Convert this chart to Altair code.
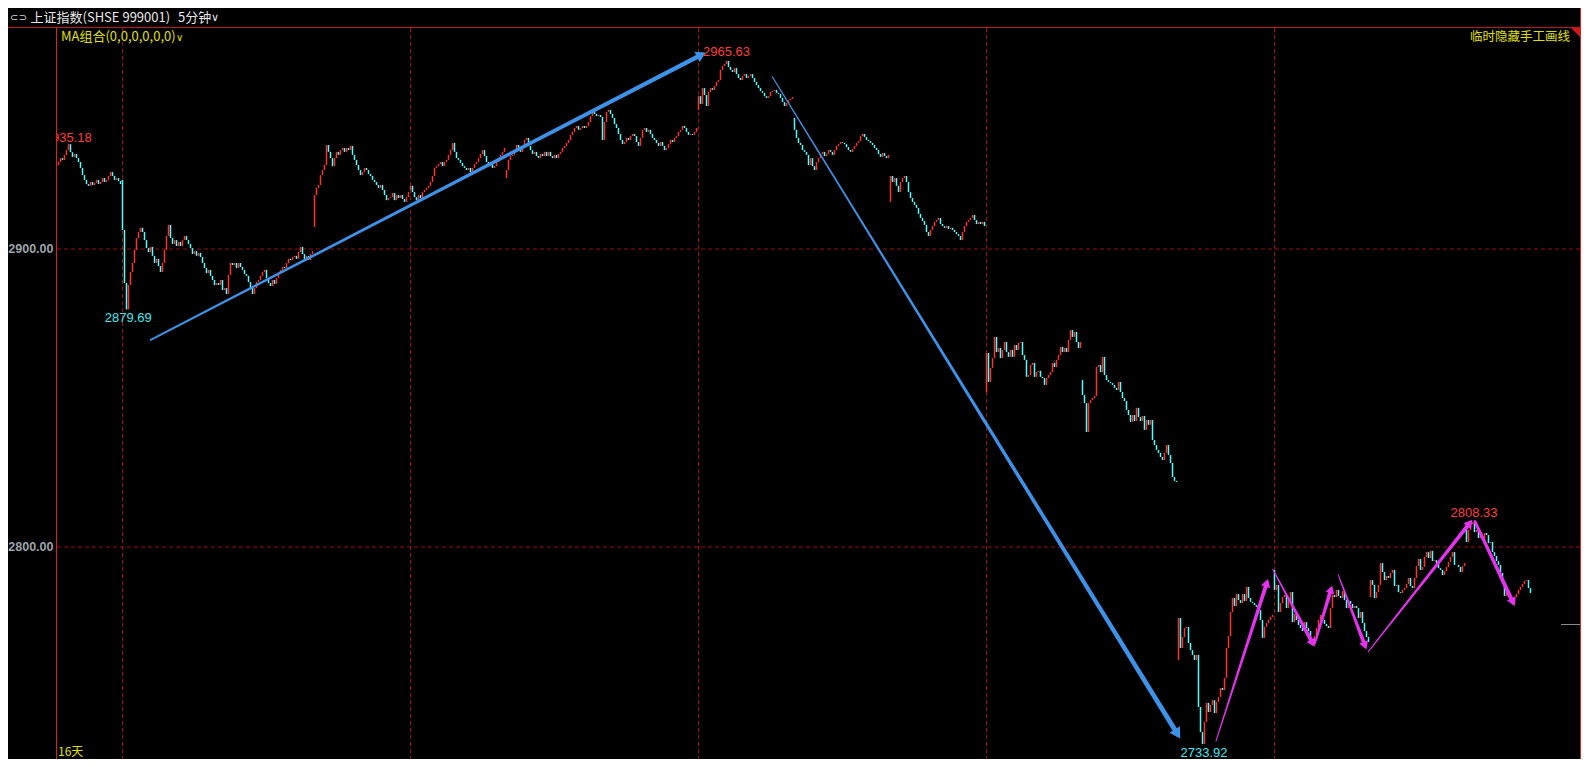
import math
import pandas as pd
import altair as alt

# ---------------- data (5-minute closes per trading day) ----------------
day_opens = [2928.2, 2923.2, 2888.6, 2907.4, 2919.8, 2923.8, 2944.3, 2946.7,
             2944.0, 2915.8, 2852.0, 2856.0, 2762.1, 2792.3, 2783.2, 2807.7]

day01 = [2929.2, 2930.5, 2929.9, 2931.5, 2933.2, 2935.2, 2932.5, 2930.9, 2931.9, 2930.5,
         2929.2, 2927.2, 2924.8, 2923.2, 2921.8, 2921.2, 2922.5, 2921.5, 2922.2, 2923.2,
         2921.8, 2922.5, 2923.8, 2922.5, 2923.2, 2924.5, 2925.8, 2924.5, 2923.2, 2923.8,
         2922.8, 2921.8]
day02 = [2906.4, 2888.6, 2879.7, 2887.9, 2892.3, 2895.3, 2899.7, 2903.7, 2905.7, 2907.1,
         2905.7, 2903.0, 2900.3, 2899.0, 2900.7, 2897.7, 2895.3, 2896.7, 2894.3, 2892.3,
         2895.3, 2899.7, 2904.4, 2908.1, 2903.7, 2901.7, 2903.0, 2901.0, 2902.4, 2901.0,
         2903.0, 2904.4, 2903.0, 2901.7, 2900.3, 2898.3, 2899.3, 2897.7, 2898.7, 2897.3,
         2895.3, 2893.6, 2891.9, 2893.0, 2891.0, 2889.6, 2887.9, 2888.6]
day03 = [2887.9, 2889.6, 2886.2, 2886.9, 2884.9, 2891.3, 2895.3, 2894.6, 2895.3, 2893.6,
         2895.3, 2894.0, 2893.0, 2891.6, 2891.0, 2888.9, 2886.9, 2884.9, 2886.9, 2888.9,
         2889.6, 2891.0, 2892.3, 2893.0, 2890.3, 2888.6, 2887.6, 2889.6, 2888.3, 2890.3,
         2892.0, 2893.0, 2894.0, 2893.6, 2895.3, 2896.7, 2896.3, 2897.3, 2897.7, 2896.7,
         2899.0, 2900.7, 2898.3, 2896.7, 2897.7, 2896.3, 2898.3, 2899.3]
day04 = [2918.1, 2920.5, 2921.5, 2924.8, 2926.5, 2928.2, 2934.9, 2932.6, 2930.5, 2927.8,
         2930.5, 2932.6, 2931.6, 2933.2, 2933.9, 2932.6, 2933.9, 2933.2, 2934.6, 2931.6,
         2929.9, 2928.2, 2926.5, 2924.8, 2925.8, 2927.2, 2926.5, 2925.2, 2924.5, 2923.2,
         2922.5, 2921.5, 2920.5, 2921.5, 2919.8, 2918.1, 2916.4, 2917.1, 2917.4, 2918.8,
         2916.4, 2918.1, 2917.1, 2918.1, 2916.8, 2915.8, 2917.4, 2919.1]
day05 = [2921.2, 2919.1, 2917.4, 2916.4, 2918.1, 2917.1, 2919.1, 2919.8, 2920.5, 2921.2,
         2922.5, 2924.5, 2927.2, 2927.8, 2928.5, 2929.2, 2927.8, 2929.2, 2929.9, 2931.6,
         2933.2, 2935.6, 2932.6, 2930.5, 2929.9, 2928.9, 2927.8, 2927.2, 2926.5, 2927.2,
         2925.8, 2927.2, 2928.5, 2929.2, 2930.5, 2931.9, 2933.2, 2931.2, 2929.2, 2927.8,
         2928.5, 2927.2, 2927.8, 2929.2, 2930.5, 2931.6, 2932.6, 2933.9]
day06 = [2926.5, 2929.9, 2931.2, 2931.6, 2933.2, 2934.9, 2933.9, 2932.6, 2934.6, 2936.6,
         2937.3, 2934.6, 2933.2, 2931.9, 2932.6, 2931.2, 2930.5, 2931.9, 2931.2, 2932.6,
         2931.2, 2932.6, 2931.2, 2930.5, 2931.6, 2930.5, 2931.9, 2932.6, 2933.9, 2934.6,
         2935.6, 2936.6, 2938.3, 2939.3, 2940.6, 2941.3, 2940.0, 2940.6, 2941.3, 2940.6,
         2941.3, 2942.6, 2944.6, 2946.0, 2945.3, 2944.6, 2945.0, 2944.3]
day07 = [2936.6, 2942.6, 2946.0, 2946.7, 2945.3, 2944.0, 2941.9, 2940.6, 2938.6, 2936.6,
         2935.2, 2935.9, 2937.3, 2936.6, 2937.9, 2938.6, 2937.9, 2935.9, 2934.6, 2937.3,
         2940.0, 2940.6, 2939.3, 2940.0, 2938.6, 2937.3, 2936.6, 2935.6, 2934.6, 2935.9,
         2934.6, 2933.2, 2933.9, 2935.2, 2936.6, 2935.9, 2937.3, 2937.9, 2939.3, 2940.0,
         2941.3, 2940.6, 2939.3, 2938.3, 2938.6, 2938.3, 2939.3, 2940.6]
day08 = [2951.3, 2948.7, 2954.0, 2951.7, 2948.0, 2952.7, 2954.0, 2953.4, 2954.7, 2956.1,
         2956.7, 2960.1, 2961.4, 2962.1, 2963.1, 2961.1, 2960.1, 2959.4, 2960.7, 2958.7,
         2957.4, 2956.7, 2958.1, 2958.7, 2957.4, 2958.1, 2958.7, 2957.4, 2956.1, 2955.0,
         2954.0, 2953.0, 2952.4, 2951.3, 2950.7, 2951.3, 2952.7, 2953.0, 2953.4, 2952.4,
         2952.0, 2950.7, 2949.3, 2948.0, 2949.0, 2950.0, 2950.4, 2951.0]
day09 = [2940.0, 2937.3, 2935.6, 2934.9, 2933.2, 2932.6, 2931.6, 2928.2, 2930.5, 2927.8,
         2926.5, 2929.2, 2930.5, 2931.9, 2932.6, 2931.2, 2931.9, 2933.2, 2932.6, 2931.6,
         2933.2, 2934.6, 2935.2, 2935.9, 2935.6, 2935.2, 2934.2, 2933.2, 2932.6, 2933.6,
         2934.6, 2935.6, 2936.2, 2937.9, 2938.6, 2937.6, 2936.6, 2936.2, 2935.6, 2934.9,
         2933.9, 2933.2, 2931.9, 2930.9, 2932.2, 2931.2, 2930.5, 2931.6]
day10 = [2924.5, 2922.5, 2923.8, 2921.2, 2919.1, 2922.5, 2923.8, 2924.5, 2922.5, 2919.1,
         2917.1, 2915.8, 2914.8, 2913.8, 2911.8, 2910.4, 2909.4, 2908.1, 2905.7, 2904.4,
         2906.4, 2907.7, 2909.1, 2909.7, 2910.4, 2908.4, 2907.7, 2907.1, 2907.7, 2906.7,
         2907.1, 2906.4, 2905.7, 2905.0, 2904.4, 2903.0, 2905.7, 2907.7, 2909.1, 2909.7,
         2910.4, 2911.4, 2909.7, 2908.4, 2909.1, 2908.4, 2909.1, 2907.7]
day11 = [2865.1, 2855.4, 2860.1, 2863.4, 2870.5, 2865.4, 2866.8, 2863.4, 2866.1, 2868.8,
         2865.4, 2863.8, 2866.1, 2863.8, 2867.8, 2866.1, 2868.5, 2868.8, 2864.4, 2862.8,
         2857.1, 2857.7, 2861.1, 2861.8, 2857.1, 2858.7, 2859.1, 2857.1, 2856.7, 2854.4,
         2856.7, 2857.7, 2858.7, 2861.8, 2860.4, 2862.8, 2864.4, 2867.1, 2865.4, 2866.8,
         2865.4, 2869.5, 2872.8, 2870.5, 2872.2, 2868.8, 2866.8, 2868.8]
day12 = [2851.0, 2848.3, 2838.6, 2848.3, 2849.3, 2850.0, 2850.7, 2860.4, 2861.1, 2858.7,
         2863.8, 2857.7, 2856.0, 2855.4, 2855.0, 2854.4, 2853.4, 2852.7, 2855.4, 2852.0,
         2850.0, 2849.0, 2846.0, 2844.3, 2842.0, 2844.3, 2842.3, 2846.7, 2843.6, 2842.3,
         2844.0, 2839.3, 2842.6, 2841.0, 2842.6, 2835.9, 2834.2, 2832.6, 2831.6, 2830.2,
         2829.2, 2831.6, 2834.2, 2830.9, 2828.2, 2823.5, 2822.2, 2821.8]
day13 = [2776.2, 2766.1, 2769.8, 2772.8, 2773.2, 2767.8, 2765.4, 2763.8, 2762.1, 2763.8,
         2746.3, 2737.9, 2733.9, 2741.3, 2747.7, 2744.6, 2747.0, 2748.6, 2744.3, 2748.0,
         2749.7, 2752.7, 2752.0, 2756.1, 2766.1, 2770.1, 2778.2, 2782.9, 2780.2, 2784.2,
         2782.2, 2781.2, 2784.2, 2781.9, 2786.6, 2782.9, 2781.6, 2781.2, 2780.5, 2779.9,
         2778.8, 2775.5, 2769.5, 2773.2, 2774.5, 2775.5, 2776.5, 2777.2]
day14 = [2785.6, 2787.3, 2778.2, 2781.2, 2783.2, 2783.9, 2779.5, 2782.2, 2784.9, 2774.8,
         2777.5, 2775.5, 2773.8, 2772.8, 2771.8, 2774.8, 2772.8, 2771.8, 2768.8, 2767.1,
         2770.1, 2772.8, 2775.5, 2777.2, 2775.5, 2774.2, 2773.5, 2772.8, 2779.5, 2783.9,
         2783.2, 2785.6, 2783.6, 2782.9, 2785.2, 2782.2, 2779.5, 2781.9, 2780.9, 2779.5,
         2780.2, 2779.5, 2776.2, 2778.2, 2774.5, 2771.8, 2769.8, 2768.1]
day15 = [2788.9, 2787.3, 2782.9, 2784.9, 2787.3, 2794.6, 2791.6, 2788.9, 2790.3, 2789.6,
         2791.3, 2792.3, 2786.9, 2787.3, 2784.9, 2784.6, 2785.6, 2786.2, 2787.6, 2789.6,
         2786.9, 2786.2, 2789.6, 2793.6, 2796.0, 2792.3, 2793.3, 2796.7, 2798.3, 2796.3,
         2798.7, 2795.3, 2795.6, 2794.6, 2792.9, 2792.3, 2790.6, 2791.9, 2793.3, 2795.0,
         2796.7, 2798.3, 2794.0, 2794.0, 2793.3, 2791.6, 2793.6, 2794.6]
day16 = [2801.7, 2805.7, 2807.7, 2808.3, 2805.0, 2805.7, 2803.0, 2803.7, 2802.3, 2804.7,
         2804.0, 2801.3, 2801.7, 2798.3, 2797.0, 2795.3, 2794.0, 2791.3, 2788.2, 2783.6,
         2785.6, 2783.2, 2782.2, 2781.2, 2783.2, 2784.2, 2785.6, 2786.6, 2787.6, 2788.6,
         2788.9, 2786.2, 2784.6]

days = [day01, day02, day03, day04, day05, day06, day07, day08,
        day09, day10, day11, day12, day13, day14, day15, day16]
assert len(day01) == 32 and len(day16) == 33
assert all(len(d) == 48 for d in days[1:15]), [len(d) for d in days]

# first bar index of every third day (dashed separators)
sep_index = [32, 176, 320, 464, 608]
grid_prices = [2900, 2800]
grid_labels = ["2900.00", "2800.00"]

# hand-drawn arrows
BLUE = "#3d91e6"
MAG = "#e632ef"
arrow_id = ["b1", "b2", "m1", "m2", "m3", "m4", "m5", "m6"]
arrow_i0 = [46.1, 356.9, 578.75, 607.1, 628.25, 639.9, 654.9, 708.25]
arrow_p0 = [2869.5, 2957.8, 2734.9, 2792.5, 2767.8, 2790.6, 2764.9, 2808.5]
arrow_i1 = [324.0, 561.1, 604.9, 628.25, 636.9, 654.1, 707.1, 728.25]
arrow_p1 = [2966.1, 2735.5, 2789.5, 2766.3, 2787.2, 2765.4, 2809.3, 2780.0]
arrow_w0 = [1.8, 1.2, 1.0, 1.0, 2.0, 1.0, 1.0, 3.0]
arrow_w1 = [4.5, 5.0, 4.0, 4.0, 4.0, 4.0, 4.0, 4.0]
arrow_col = [BLUE, BLUE, MAG, MAG, MAG, MAG, MAG, MAG]
arrow_head = [130, 150, 90, 90, 80, 90, 90, 90]

# price annotations
ann_text = ["2965.63", "2879.69", "2733.92", "2808.33"]
ann_i = [322.25, 34.9, 572.75, 707.75]
ann_p = [2966.1, 2876.7, 2730.9, 2811.4]
ann_col = ["#ff3c3c", "#40e8f0", "#40e8f0", "#ff3c3c"]
clip_text = "2935.18"
clip_i, clip_p = 16.6, 2937.1

# ---------------- frame ----------------
W, H = 1573, 751
X_DOM = [-25.25, 761.25]
Y_DOM = [2728.86, 2980.88]
PX_I = W / (X_DOM[1] - X_DOM[0])
PX_P = H / (Y_DOM[1] - Y_DOM[0])

RED = "#ff3232"
CYAN = "#54fcfc"
xs = alt.Scale(domain=X_DOM, nice=False, zero=False)
ys = alt.Scale(domain=Y_DOM, nice=False, zero=False)


def X(f):
    return alt.X(f, type="quantitative", scale=xs, axis=None)


def Y(f):
    return alt.Y(f, type="quantitative", scale=ys, axis=None)


rows = []
k = 0
for o0, closes in zip(day_opens, days):
    prev = o0
    for c in closes:
        rows.append({"i": k, "open": prev, "close": c, "dir": "up" if c >= prev else "down"})
        prev = c
        k += 1
candles = pd.DataFrame(rows)

trail_rows, head_rows = [], []
for n in range(len(arrow_id)):
    i0, p0, i1, p1 = arrow_i0[n], arrow_p0[n], arrow_i1[n], arrow_p1[n]
    dx = (i1 - i0) * PX_I
    dy = -(p1 - p0) * PX_P
    L = math.hypot(dx, dy)
    ux, uy = dx / L, dy / L
    back = 0.5 * math.sqrt(arrow_head[n])
    ci = i1 - back * ux / PX_I
    cp = p1 + back * uy / PX_P
    ang = math.degrees(math.atan2(ux, -uy)) % 360
    trail_rows.append({"id": arrow_id[n], "k": 0, "i": i0, "p": p0, "w": arrow_w0[n], "col": arrow_col[n]})
    trail_rows.append({"id": arrow_id[n], "k": 1, "i": ci, "p": cp, "w": arrow_w1[n], "col": arrow_col[n]})
    head_rows.append({"i": ci, "p": cp, "ang": ang, "s": arrow_head[n], "col": arrow_col[n]})
trails = pd.DataFrame(trail_rows)
heads = pd.DataFrame(head_rows)

DASH = "#9a1010"
BORDER = "#e02020"

hgrid = alt.Chart(pd.DataFrame({"p": grid_prices})).mark_rule(
    color=DASH, strokeDash=[4, 3], strokeWidth=1
).encode(y=Y("p"), x=alt.value(49), x2=alt.value(1572))

vgrid = alt.Chart(pd.DataFrame({"i": sep_index})).mark_rule(
    color=DASH, strokeDash=[4, 3], strokeWidth=1
).encode(x=X("i"), y=alt.value(20), y2=alt.value(751))

bars = alt.Chart(candles).mark_rule(strokeWidth=1.5).encode(
    x=X("i"), y=Y("open"), y2="close",
    color=alt.Color("dir:N", scale=alt.Scale(domain=["up", "down"], range=[RED, CYAN]), legend=None),
)

trail = alt.Chart(trails).mark_trail().encode(
    x=X("i"), y=Y("p"),
    size=alt.Size("w:Q", scale=None, legend=None),
    color=alt.Color("col:N", scale=None, legend=None),
    detail="id:N", order="k:Q",
)

head = alt.Chart(heads).mark_point(shape="triangle-up", filled=True, opacity=1, strokeWidth=0).encode(
    x=X("i"), y=Y("p"),
    angle=alt.Angle("ang:Q", scale=None),
    size=alt.Size("s:Q", scale=None, legend=None),
    color=alt.Color("col:N", scale=None, legend=None),
)

ann_df = pd.DataFrame({"t": ann_text, "i": ann_i, "p": ann_p, "c": ann_col})
FONT_NUM = "Liberation Sans"
ann_left = alt.Chart(ann_df.iloc[[0]]).mark_text(
    align="left", baseline="middle", font=FONT_NUM, fontSize=13
).encode(x=X("i"), y=Y("p"), text="t:N", color=alt.Color("c:N", scale=None, legend=None))
ann_center = alt.Chart(ann_df.iloc[1:]).mark_text(
    align="center", baseline="middle", font=FONT_NUM, fontSize=13
).encode(x=X("i"), y=Y("p"), text="t:N", color=alt.Color("c:N", scale=None, legend=None))
ann_clip = alt.Chart(pd.DataFrame({"t": [clip_text], "i": [clip_i], "p": [clip_p]})).mark_text(
    align="right", baseline="middle", font=FONT_NUM, fontSize=13, color="#ff3c3c"
).encode(x=X("i"), y=Y("p"), text="t:N")

mask = alt.Chart(pd.DataFrame({"a": [0]})).mark_rect(color="#000000").encode(
    x=alt.value(0), x2=alt.value(48), y=alt.value(20), y2=alt.value(751)
)

axis_txt = alt.Chart(pd.DataFrame({"p": grid_prices, "t": grid_labels})).mark_text(
    align="right", baseline="middle", font=FONT_NUM, fontSize=12.5, fontWeight="bold", color="#9ea4aa"
).encode(y=Y("p"), x=alt.value(45.5), text="t:N")

left_border = alt.Chart(pd.DataFrame({"a": [0]})).mark_rule(color=BORDER, strokeWidth=1).encode(
    x=alt.value(48.5), y=alt.value(19), y2=alt.value(751))
top_border = alt.Chart(pd.DataFrame({"a": [0]})).mark_rule(color="#c01818", strokeWidth=1).encode(
    y=alt.value(19.5), x=alt.value(0), x2=alt.value(1573))
right_border = alt.Chart(pd.DataFrame({"a": [0]})).mark_rule(color=BORDER, strokeWidth=1).encode(
    x=alt.value(1572.5), y=alt.value(0), y2=alt.value(751))
gray_stub = alt.Chart(pd.DataFrame({"a": [0]})).mark_rule(color="#8a8a8a", strokeWidth=1).encode(
    y=alt.value(616.5), x=alt.value(1553), x2=alt.value(1572))

corner = alt.Chart(pd.DataFrame({"a": [0]})).mark_point(
    shape="M-1,-1L1,-1L1,1Z", filled=True, color="#d01818", opacity=1, size=81, strokeWidth=0
).encode(x=alt.value(1567.5), y=alt.value(24.5))

CJK = "Noto Sans CJK SC"


def label(text, x, y, color, size, align="left", font=CJK, weight="normal"):
    return alt.Chart(pd.DataFrame({"t": [text]})).mark_text(
        align=align, baseline="middle", font=font, fontSize=size, color=color, fontWeight=weight
    ).encode(x=alt.value(x), y=alt.value(y), text="t:N")


header = [
    label("⊂⊃", 2, 9.5, "#d8d8d8", 10, font="DejaVu Sans"),
    label("上证指数(SHSE 999001)", 22.5, 9.5, "#e8e8e8", 13),
    label("5分钟", 170, 9.5, "#e8e8e8", 13),
    label("∨", 203, 10, "#e8e8e8", 11, font="DejaVu Sans"),
    label("MA组合(0,0,0,0,0,0)", 53, 28.5, "#e0e000", 13),
    label("∨", 168, 30, "#e0e000", 10, font="DejaVu Sans"),
    label("临时隐藏手工画线", 1562, 28.5, "#e0e000", 12.5, align="right"),
    label("16天", 50, 744, "#e0e000", 12),
]

chart = alt.layer(
    hgrid, vgrid, bars, trail, head, ann_left, ann_center, ann_clip,
    mask, axis_txt, left_border, top_border, right_border, gray_stub, corner, *header
).properties(
    width=W, height=H, background="#000000", padding=0,
    autosize=alt.AutoSizeParams(type="none"),
).configure_view(stroke=None)

chart.save("out.html", embed_options={"renderer": "svg", "actions": False})
